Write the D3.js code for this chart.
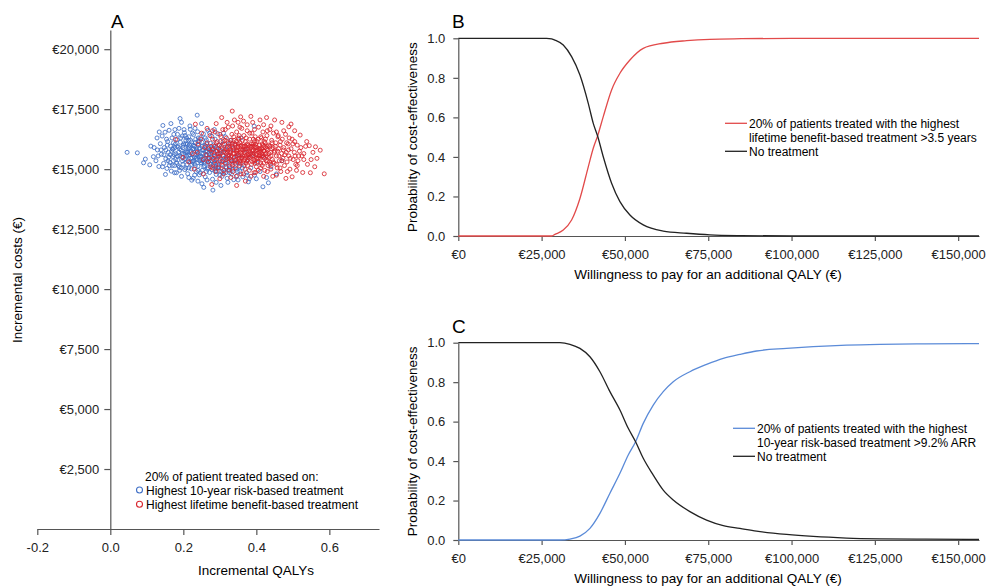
<!DOCTYPE html>
<html>
<head>
<meta charset="utf-8">
<script src="https://cdn.jsdelivr.net/npm/d3@7"></script>
<style>
  body { margin: 0; background: #fff; }
  svg { font-family: "Liberation Sans", Arial, sans-serif; }
</style>
</head>
<body>
<svg id="chart" width="988" height="587"></svg>
<script>
// ---- panel A : cost-effectiveness plane ----
var riskPoints = [
  [0.046,15700],[0.074,15680],[0.091,15265],[0.096,15420],[0.111,15960],[0.144,16820],[0.191,17110],[0.238,17250],
  [0.151,14780],[0.223,14540],[0.251,14390],[0.256,14240],[0.281,14125],[0.303,14320],[0.378,14470],[0.418,14265],
  [0.433,14430],[0.394,16790],[0.118,15520],[0.125,15350],[0.129,15800],[0.133,15110],[0.137,16060],[0.140,15620],
  [0.142,16380],[0.146,15240],[0.148,15900],[0.150,16540],[0.152,15430],[0.155,15030],[0.157,16150],[0.159,15700],
  [0.161,16620],[0.163,15280],[0.165,15960],[0.167,14920],[0.169,16300],[0.171,15530],[0.172,15820],[0.174,16450],
  [0.176,15150],[0.178,16040],[0.180,15640],[0.181,14850],[0.183,16230],[0.185,15380],[0.186,15920],[0.188,16700],
  [0.189,15080],[0.191,15560],[0.192,16120],[0.194,15790],[0.195,14700],[0.197,16380],[0.198,15330],[0.200,15990],
  [0.201,15620],[0.203,16520],[0.204,14980],[0.206,15440],[0.207,16200],[0.208,15760],[0.210,15180],[0.211,16040],
  [0.212,14810],[0.214,15580],[0.215,16350],[0.216,15890],[0.218,15300],[0.219,16660],[0.220,15680],[0.222,15010],
  [0.223,16130],[0.224,15470],[0.226,15840],[0.227,14620],[0.228,16440],[0.230,15230],[0.231,15960],[0.232,15610],
  [0.234,16250],[0.235,14900],[0.236,15390],[0.238,15750],[0.239,16560],[0.240,15120],[0.242,16000],[0.243,15520],
  [0.244,14760],[0.246,15880],[0.247,16310],[0.248,15270],[0.250,15660],[0.251,16120],[0.252,14950],[0.254,15430],
  [0.255,16470],[0.256,15800],[0.258,15150],[0.259,15990],[0.260,14680],[0.262,15570],[0.263,16220],[0.264,15340],
  [0.266,15730],[0.267,16620],[0.268,15060],[0.270,15920],[0.271,15480],[0.272,14860],[0.274,16080],[0.275,15620],
  [0.276,15210],[0.278,16370],[0.279,15850],[0.280,14580],[0.282,15400],[0.283,16010],[0.284,15700],[0.286,15000],
  [0.287,16250],[0.288,15530],[0.290,14780],[0.291,15900],[0.292,15290],[0.294,16480],[0.295,15640],[0.296,15100],
  [0.298,15980],[0.299,14920],[0.300,15450],[0.302,16160],[0.303,15760],[0.305,15200],[0.306,14700],[0.308,15580],
  [0.309,16030],[0.311,15350],[0.312,14880],[0.314,15820],[0.315,16350],[0.317,15100],[0.318,15500],[0.320,14620],
  [0.322,15940],[0.323,15280],[0.325,14980],[0.327,15700],[0.329,16200],[0.330,15420],[0.332,14800],[0.334,15150],
  [0.336,15860],[0.338,14560],[0.340,15380],[0.342,16050],[0.345,15000],[0.347,14720],[0.350,15600],[0.352,15250],
  [0.355,14900],[0.358,16300],[0.360,15480],[0.363,14680],[0.366,15150],[0.370,15800],[0.373,14850],[0.377,15400],
  [0.381,14600],[0.385,15050],[0.390,15620],[0.395,14750],[0.402,15250],[0.410,14900],[0.420,15500],[0.428,14650],
  [0.440,15100],[0.455,14800],[0.470,15350],
  [0.205,15700],[0.213,15850],[0.221,15450],[0.229,15950],[0.237,15600],[0.245,15350],[0.253,15800],[0.261,15950],
  [0.269,15300],[0.277,15500],[0.285,15250],[0.293,15750],[0.217,16000],[0.233,15150],[0.249,15500],[0.265,15600],
  [0.196,15500],[0.187,15700],[0.179,15400],[0.173,16100],[0.209,16300],[0.225,16500],[0.241,16300],[0.257,15250],
  [0.273,15800],[0.289,15100],[0.199,15200],[0.215,15050],[0.231,14750],[0.247,14850],[0.263,14900],[0.279,14980],
  [0.164,15600],[0.158,15350],[0.170,15150],[0.184,16450],[0.202,16650],[0.218,16800],[0.166,16900],[0.195,16950],
  [0.128,16300],[0.134,16550],[0.120,15900],[0.108,15180],
  [0.152,15800],[0.156,16000],[0.160,15500],[0.162,15150],[0.168,15750],[0.175,15600],[0.177,15900],[0.182,15250],
  [0.184,15550],[0.190,15850],[0.193,16300],[0.197,15650],[0.203,15400],[0.206,16050],[0.209,15550],[0.212,15350],
  [0.214,15950],[0.217,15600],[0.220,16200],[0.222,15750],[0.225,15300],[0.228,15850],[0.230,15500],[0.233,16100],
  [0.236,15800],[0.239,15400],[0.241,15650],[0.244,16150],[0.247,15550],[0.250,15250],[0.252,15950],[0.255,15650],
  [0.258,15450],[0.261,15750],[0.264,16050],[0.267,15400],[0.270,15650],[0.273,15200],[0.276,15750],[0.279,15350],
  [0.282,15850],[0.285,15550],[0.288,15950],[0.291,15400],[0.294,15200],[0.297,15550],[0.300,15800],[0.304,15050],
  [0.307,15350],[0.310,15700],[0.313,15450],[0.316,14850],[0.319,15250],[0.324,15550],[0.328,15050],[0.333,15350],
  [0.337,15000],[0.343,15250],[0.348,14900],[0.353,15100],
  [0.186,15150],[0.199,15900],[0.211,15700],[0.223,15200],[0.235,15450],[0.243,15850],[0.256,15100],[0.268,15850],
  [0.281,15150],[0.293,15050],[0.305,14900],[0.318,15050],[0.173,15350],[0.194,15050],[0.207,15050],[0.229,15350],
  [0.240,14950],[0.253,15350],[0.266,15000],[0.287,14900],[0.300,14750],[0.327,14850],[0.201,16050],[0.214,16200],
  [0.227,16000],[0.240,16150],[0.260,16300],[0.183,15950],[0.170,15850],[0.147,15600],[0.143,15100],[0.139,15800],
  [0.131,15550],[0.154,16250],[0.177,16650],[0.205,16400],[0.232,16700],[0.250,16900],[0.272,16500],[0.285,16650],
  [0.310,16500],[0.325,16050],[0.345,15550],[0.362,15050],[0.375,14750],[0.400,14600],[0.350,14550],[0.322,14450],
  [0.290,14450],[0.265,14550],[0.240,14500],[0.215,14650],[0.190,14950],[0.176,14850]
];

var benefitPoints = [
  [0.334,17420],[0.305,17150],[0.357,17180],[0.428,17150],[0.233,16875],[0.575,15790],[0.586,14805],[0.548,14850],
  [0.527,14860],[0.498,14680],[0.481,14615],[0.346,14320],[0.278,14360],[0.179,16240],[0.199,15490],[0.489,16765],
  [0.562,15930],[0.398,14865],[0.545,15980],[0.555,15700],[0.538,16150],[0.530,15400],[0.520,16420],[0.512,15150],
  [0.505,16600],[0.566,15450],[0.510,14950],[0.495,16880],[0.470,16950],[0.450,17050],[0.410,17050],[0.385,17200],
  [0.365,17000],[0.340,17050],[0.320,16950],[0.290,16900],[0.265,16700],[0.250,16500],[0.240,16050],[0.225,15650],
  [0.215,15300],[0.230,15000],[0.255,14800],[0.300,14600],[0.330,14650],[0.370,14500],[0.420,14700],[0.455,14750],
  [0.540,15200],[0.560,15100],[0.518,15750],
  [0.262,15600],[0.265,16100],[0.268,15300],[0.270,15850],[0.273,16400],[0.275,15100],[0.278,15700],[0.280,16250],
  [0.282,15450],[0.285,15950],[0.287,16550],[0.289,15200],[0.291,15750],[0.293,16150],[0.295,15500],[0.297,15050],
  [0.299,16000],[0.301,15650],[0.303,16350],[0.305,15300],[0.306,15850],[0.308,16650],[0.310,15550],[0.311,14950],
  [0.313,16050],[0.315,15700],[0.316,15250],[0.318,16300],[0.320,15900],[0.321,15450],[0.323,16750],[0.325,15600],
  [0.326,15100],[0.328,16100],[0.330,15800],[0.331,15350],[0.333,16450],[0.334,15950],[0.336,14900],[0.337,15650],
  [0.339,16200],[0.340,15500],[0.342,15050],[0.343,16000],[0.345,15750],[0.346,16550],[0.348,15300],[0.349,15900],
  [0.351,16300],[0.352,15600],[0.354,15150],[0.355,16100],[0.357,15800],[0.358,14800],[0.360,16700],[0.361,15450],
  [0.363,15950],[0.364,15250],[0.366,16400],[0.367,15700],[0.369,15000],[0.370,16150],[0.372,15550],[0.373,15850],
  [0.375,16600],[0.376,15350],[0.378,16000],[0.379,15650],[0.381,14950],[0.382,16250],[0.384,15500],[0.385,15900],
  [0.387,15200],[0.388,16500],[0.390,15750],[0.391,16050],[0.393,15400],[0.394,14850],[0.396,15950],[0.397,16350],
  [0.399,15600],[0.400,15100],[0.402,16150],[0.403,15800],[0.405,15300],[0.406,16750],[0.408,15700],[0.409,16000],
  [0.411,15450],[0.412,15050],[0.414,16300],[0.415,15850],[0.417,15550],[0.418,16550],[0.420,15250],[0.421,15950],
  [0.423,14950],[0.424,16100],[0.426,15650],[0.427,15350],[0.429,16400],[0.430,15800],[0.432,15150],[0.434,16000],
  [0.435,15500],[0.437,16650],[0.439,15700],[0.440,15000],[0.442,16200],[0.444,15400],[0.446,15900],[0.447,16500],
  [0.449,15250],[0.451,15750],[0.453,16100],[0.455,15550],[0.457,15050],[0.459,16350],[0.461,15850],[0.463,15350],
  [0.465,16000],[0.467,14900],[0.469,15650],[0.471,16250],[0.473,15450],[0.475,15900],[0.477,15150],[0.480,16450],
  [0.482,15700],[0.484,15300],[0.487,16050],[0.489,15550],[0.492,15000],[0.495,15850],[0.498,16250],[0.501,15400],
  [0.504,15700],[0.508,15200],[0.512,16000],[0.516,15550],
  [0.322,15700],[0.327,15900],[0.332,15550],[0.338,15800],[0.341,16050],[0.344,15400],[0.347,15650],[0.350,15950],
  [0.353,15450],[0.356,15700],[0.359,16000],[0.362,15550],[0.365,15800],[0.368,15400],[0.371,15950],[0.374,15600],
  [0.377,15850],[0.380,15450],[0.383,15700],[0.386,16050],[0.389,15550],[0.392,15800],[0.395,15350],[0.398,15900],
  [0.401,15650],[0.404,15450],[0.407,15850],[0.410,15600],[0.413,15750],[0.416,16050],[0.419,15500],[0.422,15750],
  [0.425,15900],[0.428,15550],[0.331,16200],[0.352,16250],[0.372,16300],[0.392,16250],[0.412,16350],[0.336,15200],
  [0.356,15250],[0.376,15150],[0.396,15250],[0.416,15150],[0.436,15300],[0.300,15350],[0.296,15850],[0.309,16150],
  [0.284,15600],[0.276,15950],
  [0.300,15550],[0.304,15950],[0.307,15150],[0.312,15750],[0.314,16200],[0.317,15400],[0.319,15650],[0.323,16100],
  [0.326,15450],[0.329,15700],[0.333,15250],[0.335,15900],[0.338,16350],[0.340,15650],[0.343,15350],[0.345,16150],
  [0.348,15550],[0.350,15800],[0.353,16400],[0.355,15350],[0.357,15950],[0.360,15650],[0.362,16200],[0.365,15350],
  [0.367,15600],[0.370,15850],[0.372,15250],[0.375,16050],[0.377,15500],[0.380,15750],[0.382,16500],[0.385,15650],
  [0.387,15950],[0.390,15300],[0.392,15550],[0.395,16150],[0.397,15750],[0.400,15450],[0.402,15900],[0.405,16250],
  [0.407,15550],[0.410,15850],[0.412,15250],[0.415,15650],[0.418,16000],[0.420,15750],[0.423,15450],[0.425,16250],
  [0.428,15850],[0.431,15350],[0.434,15650],[0.437,15950],[0.440,15550],[0.443,16100],[0.446,15300],[0.449,15700],
  [0.452,15950],[0.455,15200],[0.458,15750],[0.462,15550],[0.466,16150],[0.470,15350],[0.474,15800],[0.478,15600],
  [0.483,16100],[0.488,15800],[0.493,15450],[0.500,16050],[0.506,15550],[0.514,15350],[0.522,15900],[0.530,15650],
  [0.330,15500],[0.346,15800],[0.362,15800],[0.378,15600],[0.394,15650],[0.410,15800],[0.426,15650],[0.442,15850],
  [0.358,15450],[0.374,15350],[0.390,15950],[0.406,15450],[0.422,16150],[0.438,15200],[0.318,15850],[0.334,16050],
  [0.350,16050],[0.366,15950],[0.382,15950],[0.398,16050],[0.414,15550],[0.430,15950],[0.270,15450],[0.280,15800],
  [0.290,16100],[0.286,15350],[0.296,15650],[0.258,15900],[0.248,16250],[0.238,15700],[0.255,15400],[0.280,15050],
  [0.290,14900],[0.310,14800],[0.325,14950],[0.345,14700],[0.365,14800],[0.385,14700],[0.405,14950],[0.430,14900],
  [0.445,14700],[0.465,15050],[0.485,14900],[0.475,16600],[0.455,16550],[0.440,16800],[0.420,16850],[0.395,16650],
  [0.375,16850],[0.355,16750],[0.335,16800],[0.315,16650],[0.300,16450],[0.280,16600],[0.350,16950],[0.390,16950],
  [0.430,16600],[0.460,16400],[0.490,16300],[0.505,16150],[0.525,15550],[0.535,15950],[0.550,15400]
];

var qalyTicks = [-0.2, 0, 0.2, 0.4, 0.6];
var costTicks = [2500, 5000, 7500, 10000, 12500, 15000, 17500, 20000];

// ---- panels B and C : acceptability curves ----
var wtpTicks = [0, 25000, 50000, 75000, 100000, 125000, 150000];
var probTicks = [0, 0.2, 0.4, 0.6, 0.8, 1.0];

var wtpB = [0,26500,28000,29000,31500,34000,36500,39000,40500,41800,43500,46000,48500,51500,55500,61500,68500,75500,85000,100000,120000,156250];
var lifetimeB = [0,0,0,0.008,0.03,0.081,0.19,0.35,0.444,0.506,0.604,0.739,0.823,0.89,0.949,0.975,0.988,0.995,0.998,1,1,1];
var noTreatB  = [1,1,0.997,0.991,0.966,0.907,0.814,0.671,0.57,0.506,0.401,0.267,0.174,0.106,0.056,0.025,0.014,0.006,0.002,0,0,0];

var wtpC = [0,30500,33500,36500,39500,42500,45500,48500,51000,53200,55500,58500,61500,64500,69500,74500,79500,84500,89500,98500,106500,116500,126500,140000,156250];
var riskC    = [0,0,0.005,0.02,0.059,0.135,0.237,0.338,0.431,0.498,0.591,0.684,0.752,0.802,0.853,0.89,0.921,0.941,0.958,0.971,0.98,0.988,0.992,0.994,0.995];
var noTreatC = [1,1,0.992,0.971,0.929,0.853,0.752,0.659,0.566,0.498,0.414,0.329,0.253,0.203,0.144,0.101,0.073,0.059,0.045,0.028,0.018,0.01,0.006,0.004,0.003];

var blue = '#3f6fc6', red = '#d8262e';
var redLine = '#e24a4a', blueLine = '#5b8bd8', axisCol = '#555';

var svg = d3.select('#chart');

function styleAxis(g){
	g.select('.domain').attr('stroke', axisCol).attr('stroke-width', 1.2);
	g.selectAll('.tick line').attr('stroke', axisCol).attr('stroke-width', 1.2);
	g.selectAll('.tick text').attr('fill', '#222').style('font-size', '13px').attr('font-family', null);
}

function euro(d){ return '€' + d3.format(',')(d); }

//--------------------------------------------------
// panel A

var xA = d3.scaleLinear().domain([-0.2, 0.736]).range([37.3, 379]);
var yA = d3.scaleLinear().domain([0, 20800]).range([529, 30]);

var gA = svg.append('g');

gA.append('g')
	.attr('transform', 'translate(0,' + yA(0) + ')')
	.call(d3.axisBottom(xA).tickValues(qalyTicks).tickSize(6).tickSizeOuter(0).tickPadding(8)
		.tickFormat(function(d){ return d.toFixed(1) }))
	.call(styleAxis);

gA.append('g')
	.attr('transform', 'translate(' + xA(0) + ',0)')
	.call(d3.axisLeft(yA).tickValues(costTicks).tickSize(6).tickSizeOuter(0).tickPadding(5).tickFormat(euro))
	.call(styleAxis);

gA.append('g').selectAll('circle')
	.data(riskPoints)
	.enter()
	.append('circle')
	.attr('cx', function(d){ return xA(d[0]) })
	.attr('cy', function(d){ return yA(d[1]) })
	.attr('r', 2)
	.attr('fill', 'none')
	.attr('stroke', blue)
	.attr('stroke-opacity', 0.85)
	.attr('stroke-width', 1);

gA.append('g').selectAll('circle')
	.data(benefitPoints)
	.enter()
	.append('circle')
	.attr('cx', function(d){ return xA(d[0]) })
	.attr('cy', function(d){ return yA(d[1]) })
	.attr('r', 2)
	.attr('fill', 'none')
	.attr('stroke', red)
	.attr('stroke-opacity', 0.85)
	.attr('stroke-width', 1);

gA.append('text').attr('x', 111).attr('y', 28).style('font-size', '19px').text('A');
gA.append('text').attr('x', 256).attr('y', 575).attr('text-anchor', 'middle').style('font-size', '13.5px').text('Incremental QALYs');
gA.append('text').attr('transform', 'translate(22,280) rotate(-90)').attr('text-anchor', 'middle')
	.style('font-size', '13.5px').text('Incremental costs (€)');

var legA = gA.append('g').style('font-size', '12px');
legA.append('text').attr('x', 145).attr('y', 481).text('20% of patient treated based on:');
[[blue, 'Highest 10-year risk-based treatment'], [red, 'Highest lifetime benefit-based treatment']].forEach(function(d, i){
	legA.append('circle').attr('cx', 139.5).attr('cy', 490 + i*14.3).attr('r', 3)
		.attr('fill', 'none').attr('stroke', d[0]).attr('stroke-width', 1.1);
	legA.append('text').attr('x', 146).attr('y', 494.5 + i*14.3).text(d[1]);
});

//--------------------------------------------------
// panels B and C

function makeCurvePanel(top, bottom, letter, wtp, seriesList, legend){
	var x = d3.scaleLinear().domain([0, 156250]).range([458.3, 979]);
	var y = d3.scaleLinear().domain([0, 1]).range([bottom, top]);
	var g = svg.append('g');

	g.append('g')
		.attr('transform', 'translate(0,' + bottom + ')')
		.call(d3.axisBottom(x).tickValues(wtpTicks).tickSize(5).tickSizeOuter(0).tickPadding(9).tickFormat(euro))
		.call(styleAxis);
	g.append('g')
		.attr('transform', 'translate(' + x(0) + ',0)')
		.call(d3.axisLeft(y).tickValues(probTicks).tickSize(5).tickSizeOuter(0).tickPadding(8)
			.tickFormat(function(d){ return d.toFixed(1) }))
		.call(styleAxis);

	var line = d3.line()
		.x(function(d){ return x(d[0]) })
		.y(function(d){ return y(d[1]) })
		.curve(d3.curveMonotoneX);

	seriesList.forEach(function(s){
		g.append('path')
			.datum(wtp.map(function(w, i){ return [w, s.values[i]] }))
			.attr('d', line)
			.attr('fill', 'none')
			.attr('stroke', s.color)
			.attr('stroke-width', 1.3);
	});

	g.append('text').attr('x', 452).attr('y', top - 10).style('font-size', '19px').text(letter);
	g.append('text').attr('x', 708).attr('y', bottom + 43).attr('text-anchor', 'middle')
		.style('font-size', '13.5px').text('Willingness to pay for an additional QALY (€)');
	g.append('text').attr('transform', 'translate(417,' + ((top + bottom) / 2) + ') rotate(-90)')
		.attr('text-anchor', 'middle').style('font-size', '13.5px').text('Probability of cost-effectiveness');

	var leg = g.append('g').style('font-size', '12px');
	leg.append('line').attr('x1', legend.x).attr('x2', legend.x + 22).attr('y1', legend.y).attr('y2', legend.y)
		.attr('stroke', seriesList[0].color).attr('stroke-width', 1.3);
	leg.append('text').attr('x', legend.x + 24).attr('y', legend.y + 4.3).text(legend.lines[0]);
	leg.append('text').attr('x', legend.x + 24).attr('y', legend.y + 18.3).text(legend.lines[1]);
	leg.append('line').attr('x1', legend.x).attr('x2', legend.x + 22).attr('y1', legend.y + 28).attr('y2', legend.y + 28)
		.attr('stroke', seriesList[1].color).attr('stroke-width', 1.3);
	leg.append('text').attr('x', legend.x + 24).attr('y', legend.y + 32.3).text('No treatment');
}

makeCurvePanel(38.3, 236, 'B', wtpB,
	[{values: lifetimeB, color: redLine}, {values: noTreatB, color: '#222'}],
	{x: 725, y: 123.3, lines: ['20% of patients treated with the highest', 'lifetime benefit-based treatment >3.5 years']});

makeCurvePanel(342.7, 540, 'C', wtpC,
	[{values: riskC, color: blueLine}, {values: noTreatC, color: '#222'}],
	{x: 733, y: 428.3, lines: ['20% of patients treated with the highest', '10-year risk-based treatment >9.2% ARR']});
</script>
</body>
</html>
